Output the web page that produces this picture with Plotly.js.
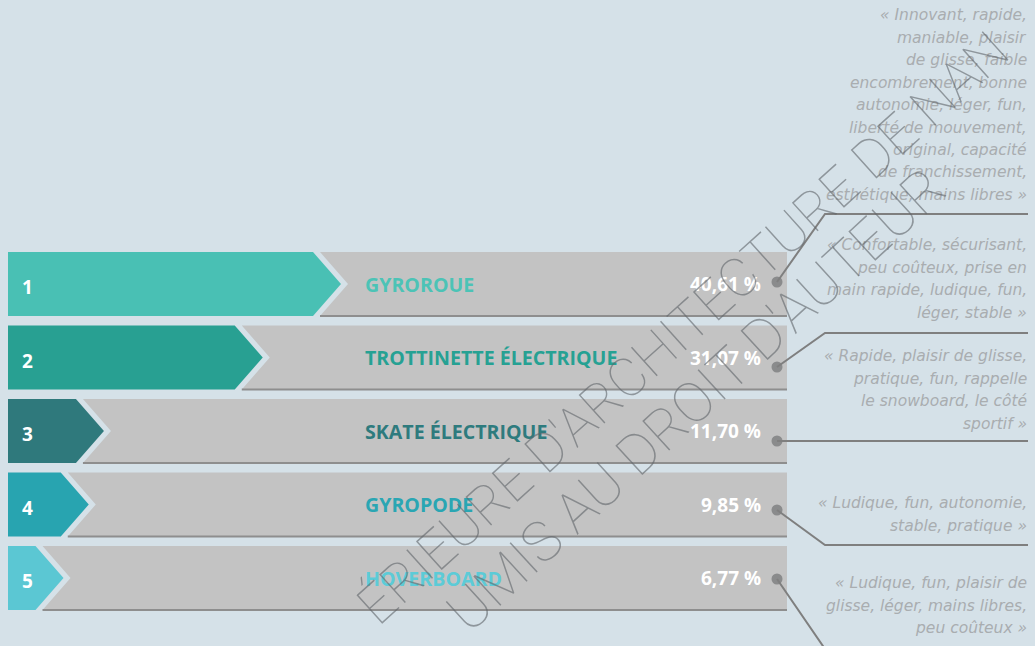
<!DOCTYPE html>
<html>
<head>
<meta charset="utf-8">
<script src="https://cdn.plot.ly/plotly-3.0.1.min.js"></script>
<style>
html,body{margin:0;padding:0;background:#d5e1e8;}
#chart{width:1035px;height:646px;}
</style>
</head>
<body>
<div id="chart"></div>
<script>
// ---------- data ----------
const ranks = ['1', '2', '3', '4', '5'];
const categories = ['GYROROUE', 'TROTTINETTE ÉLECTRIQUE', 'SKATE ÉLECTRIQUE', 'GYROPODE', 'HOVERBOARD'];
const shares = [40.61, 31.07, 11.70, 9.85, 6.77];
const shareLabels = ['40,61 %', '31,07 %', '11,70 %', '9,85 %', '6,77 %'];
const quote1 = ['« Innovant, rapide,', 'maniable, plaisir', 'de glisse, faible', 'encombrement, bonne', 'autonomie, léger, fun,', 'liberté de mouvement,', 'original, capacité', 'de franchissement,', 'esthétique, mains libres »'];
const quote2 = ['« Confortable, sécurisant,', 'peu coûteux, prise en', 'main rapide, ludique, fun,', 'léger, stable »'];
const quote3 = ['« Rapide, plaisir de glisse,', 'pratique, fun, rappelle', 'le snowboard, le côté', 'sportif »'];
const quote4 = ['« Ludique, fun, autonomie,', 'stable, pratique »'];
const quote5 = ['« Ludique, fun, plaisir de', 'glisse, léger, mains libres,', 'peu coûteux »'];
const quotes = [quote1, quote2, quote3, quote4, quote5];
const watermark = ['ÉRIEURE D\'ARCHITECTURE DE NAN', 'UMIS AU DROIT D\'AUTEUR'];

// ---------- style / layout ----------
const W = 1035, H = 646;
const barColors = ['#49c0b4', '#28a092', '#2f797c', '#28a4b0', '#5bc7d3'];
const nameColors = ['#4cc3b6', '#26a193', '#2e7b7e', '#2aa6b3', '#5ccbd7'];
const PX_PER_PCT = 8.2, X0 = 8;          // 0 % at pixel 8
const ROW0 = 284, PITCH = 73.5, HALF = 32; // row centres in pixels
const TIP = 28, GAP = 7, TRACK_END = 787;
const xr = [-X0 / PX_PER_PCT, (W - X0) / PX_PER_PCT];
const yr = [(H - ROW0) / PITCH, -ROW0 / PITCH];
const px2x = p => (p - X0) / PX_PER_PCT;
const px2y = p => (p - ROW0) / PITCH;
const d = TIP / PX_PER_PCT, g = GAP / PX_PER_PCT, h = HALF / PITCH;
const trackEnd = px2x(TRACK_END);

const dotPx = [282, 367, 441, 510, 579];
const elbowPx = [214, 333, 441, 545, 649];
const quoteFirstLinePx = [15, 245, 356, 503, 583];
const LINE_H = 22.5;

const traces = [];
const shapes = [];
const annotations = [];

shares.forEach((v, i) => {
  const top = i - h, bot = i + h;
  // grey track with notch
  traces.push({
    type: 'scatter', mode: 'lines', fill: 'toself', fillcolor: '#c3c3c3',
    line: {width: 0, color: '#c3c3c3'}, hoverinfo: 'skip', showlegend: false,
    x: [v - d + g, trackEnd, trackEnd, v - d + g, v + g, v - d + g],
    y: [top, top, bot, bot, i, top]
  });
  // bottom edge of track
  traces.push({
    type: 'scatter', mode: 'lines', line: {width: 2, color: '#8e8e8e'},
    hoverinfo: 'skip', showlegend: false,
    x: [v - d + g, trackEnd], y: [bot, bot]
  });
  // coloured arrow
  traces.push({
    type: 'scatter', mode: 'lines', fill: 'toself', fillcolor: barColors[i],
    line: {width: 0, color: barColors[i]}, hoverinfo: 'skip', showlegend: false,
    x: [0, v - d, v, v - d, 0, 0],
    y: [top, top, i, bot, bot, top]
  });
  annotations.push({
    x: px2x(20), y: i, xref: 'x', yref: 'y', xanchor: 'left', yanchor: 'middle', yshift: -3,
    text: '<b>' + ranks[i] + '</b>', showarrow: false,
    font: {family: 'Open Sans', size: 19, color: '#ffffff'}
  });
  annotations.push({
    x: px2x(363), y: i, xref: 'x', yref: 'y', xanchor: 'left', yanchor: 'middle', yshift: 0,
    text: '<b>' + categories[i] + '</b>', showarrow: false,
    font: {family: 'Open Sans', size: 19.6, color: nameColors[i]}
  });
  annotations.push({
    x: px2x(763), y: i, xref: 'x', yref: 'y', xanchor: 'right', yanchor: 'middle', yshift: 0,
    text: '<b>' + shareLabels[i] + '</b>', showarrow: false,
    font: {family: 'Open Sans', size: 19, color: '#ffffff'}
  });
  // leader line
  const dy = px2y(dotPx[i]), ey = px2y(elbowPx[i]);
  shapes.push({
    type: 'path', xref: 'x', yref: 'y', layer: 'above',
    path: 'M' + px2x(777) + ',' + dy + ' L' + px2x(825) + ',' + ey + ' L' + px2x(1028) + ',' + ey,
    line: {color: '#7f7f7f', width: 2}
  });
  // quote
  quotes[i].forEach((ln, j) => {
    annotations.push({
      x: 1029 / W, y: 1 - (quoteFirstLinePx[i] + j * LINE_H) / H, xref: 'paper', yref: 'paper',
      xanchor: 'right', yanchor: 'middle', text: ln, showarrow: false,
      font: {family: 'DejaVu Sans', size: 15.5, color: '#a9adb0', style: 'italic', weight: 200}
    });
  });
});

// leader dots
traces.push({
  type: 'scatter', mode: 'markers', hoverinfo: 'skip', showlegend: false,
  x: shares.map(() => px2x(777)), y: dotPx.map(px2y),
  marker: {size: 11, color: '#8a8b8c'}
});

// watermark
annotations.push({
  x: 682 / W, y: 1 - 328 / H, xref: 'paper', yref: 'paper', showarrow: false,
  xanchor: 'center', yanchor: 'middle',
  text: watermark[0], textangle: -42,
  font: {family: 'Roboto', size: 54, color: 'rgba(95,100,105,0.6)', weight: 100}
});
annotations.push({
  x: 696 / W, y: 1 - 400 / H, xref: 'paper', yref: 'paper', showarrow: false,
  xanchor: 'center', yanchor: 'middle',
  text: watermark[1], textangle: -42.6,
  font: {family: 'Roboto', size: 56, color: 'rgba(95,100,105,0.6)', weight: 100}
});

const layout = {
  width: W, height: H,
  margin: {l: 0, r: 0, t: 0, b: 0},
  paper_bgcolor: '#d5e1e8', plot_bgcolor: 'rgba(0,0,0,0)',
  xaxis: {range: xr, visible: false, fixedrange: true},
  yaxis: {range: yr, visible: false, fixedrange: true},
  showlegend: false,
  shapes: shapes,
  annotations: annotations
};

Plotly.newPlot('chart', traces, layout, {staticPlot: true, displayModeBar: false});
</script>
</body>
</html>
